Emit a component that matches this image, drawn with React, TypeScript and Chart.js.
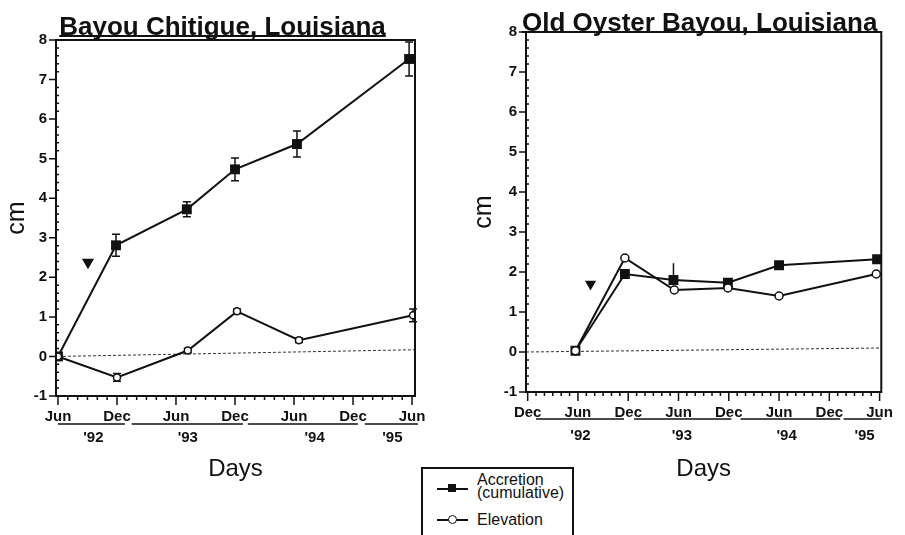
import React, { useEffect, useRef } from 'react';
import { Chart, registerables } from 'chart.js';
Chart.register(...registerables);

const FONT = "'Liberation Sans', Arial, Helvetica, sans-serif";
const INK = '#111';

// ---------- shared axis data ----------
const yTickValues = [-1, 0, 1, 2, 3, 4, 5, 6, 7, 8];
const yearLabels = ["'92", "'93", "'94", "'95"];

// x values are months after June 1992
// ---------- Bayou Chitigue ----------
const leftTickMonths = [0, 6, 12, 18, 24, 30, 36];
const leftTickLabels = ['Jun', 'Dec', 'Jun', 'Dec', 'Jun', 'Dec', 'Jun'];
const leftAccMonths = [0, 5.9, 13.1, 18.0, 24.3, 35.7];
const leftAccValues = [0, 2.81, 3.72, 4.73, 5.37, 7.52];
const leftAccErrUp = [0, 0.28, 0.19, 0.29, 0.33, 0.43];
const leftAccErrDown = [0, 0.28, 0.19, 0.29, 0.33, 0.43];
const leftElevMonths = [0, 6.0, 13.2, 18.2, 24.5, 36.1];
const leftElevValues = [0, -0.53, 0.15, 1.14, 0.41, 1.04];
const leftElevErrUp = [0, 0.1, 0.06, 0.06, 0.06, 0.16];
const leftElevErrDown = [0, 0.1, 0.06, 0.06, 0.06, 0.16];
const leftBaseMonths = [0, 36.3];
const leftBaseValues = [0, 0.17];
const leftEventMonths = [3.05];
const leftEventValues = [2.38];
const leftYearCenters = [3.6, 13.2, 26.1, 34.0];
const leftYearStarts = [0, 7.5, 19.3, 31.2];
const leftYearEnds = [6.8, 18.8, 30.5, 36.6];

// ---------- Old Oyster Bayou ----------
const rightTickMonths = [-6, 0, 6, 12, 18, 24, 30, 36];
const rightTickLabels = ['Dec', 'Jun', 'Dec', 'Jun', 'Dec', 'Jun', 'Dec', 'Jun'];
const rightAccMonths = [-0.3, 5.6, 11.4, 17.9, 24.0, 35.7];
const rightAccValues = [0.03, 1.95, 1.8, 1.73, 2.17, 2.32];
const rightAccErrUp = [0, 0.08, 0.42, 0.05, 0.06, 0.1];
const rightAccErrDown = [0, 0.12, 0, 0.05, 0.06, 0.1];
const rightElevMonths = [-0.3, 5.6, 11.5, 17.9, 24.0, 35.6];
const rightElevValues = [0.03, 2.35, 1.55, 1.6, 1.4, 1.95];
const rightElevErrUp = [0, 0, 0, 0, 0, 0];
const rightElevErrDown = [0, 0, 0, 0, 0, 0];
const rightBaseMonths = [-6.2, 36.2];
const rightBaseValues = [0, 0.1];
const rightEventMonths = [1.5];
const rightEventValues = [1.7];
const rightYearCenters = [0.3, 12.4, 24.9, 34.2];
const rightYearStarts = [-5, 6.7, 19.4, 31.7];
const rightYearEnds = [5.5, 18.3, 31.3, 36.2];

const zip = (xs: number[], ys: number[]) => xs.map((x, i) => ({ x, y: ys[i] }));

type Panel = {
  id: string;
  title: string;
  width: number;
  xMin: number;
  xMax: number;
  yAxisWidth: number;
  padTop: number;
  padRight: number;
  xAxisHeight: number;
  cmPad: number;
  titleBaseline: number;
  titleShift: number;
  cap: number;
  tickMonths: number[];
  tickLabels: string[];
  accM: number[]; accV: number[]; accU: number[]; accD: number[];
  elM: number[]; elV: number[]; elU: number[]; elD: number[];
  baseM: number[]; baseV: number[];
  evM: number[]; evV: number[];
  yearC: number[]; yearS: number[]; yearE: number[];
  lineOff: number; labelOff: number;
  sq: number; circ: number; tri: number;
};

const panels: Panel[] = [
  {
    id: 'left', title: 'Bayou Chitigue, Louisiana', width: 450,
    xMin: -0.2, xMax: 36.3, yAxisWidth: 56, padTop: 40, padRight: 35, xAxisHeight: 139,
    cmPad: 2, titleBaseline: 35, titleShift: -13, cap: 4,
    tickMonths: leftTickMonths, tickLabels: leftTickLabels,
    accM: leftAccMonths, accV: leftAccValues, accU: leftAccErrUp, accD: leftAccErrDown,
    elM: leftElevMonths, elV: leftElevValues, elU: leftElevErrUp, elD: leftElevErrDown,
    baseM: leftBaseMonths, baseV: leftBaseValues,
    evM: leftEventMonths, evV: leftEventValues,
    yearC: leftYearCenters, yearS: leftYearStarts, yearE: leftYearEnds,
    lineOff: 28, labelOff: 42, sq: 7, circ: 3.5, tri: 7,
  },
  {
    id: 'right', title: 'Old Oyster Bayou, Louisiana', width: 455,
    xMin: -6.2, xMax: 36.2, yAxisWidth: 76, padTop: 32, padRight: 13, xAxisHeight: 143,
    cmPad: 19, titleBaseline: 31, titleShift: -4, cap: 0,
    tickMonths: rightTickMonths, tickLabels: rightTickLabels,
    accM: rightAccMonths, accV: rightAccValues, accU: rightAccErrUp, accD: rightAccErrDown,
    elM: rightElevMonths, elV: rightElevValues, elU: rightElevErrUp, elD: rightElevErrDown,
    baseM: rightBaseMonths, baseV: rightBaseValues,
    evM: rightEventMonths, evV: rightEventValues,
    yearC: rightYearCenters, yearS: rightYearStarts, yearE: rightYearEnds,
    lineOff: 27, labelOff: 44, sq: 7, circ: 4, tri: 6.5,
  },
];

function decorPlugin(p: Panel) {
  return {
    id: 'decor_' + p.id,
    beforeDatasetsDraw(chart: any) {
      const ctx = chart.ctx;
      ctx.save();
      ctx.strokeStyle = INK;
      ctx.lineWidth = 1.5;
      chart.data.datasets.forEach((ds: any, di: number) => {
        if (!ds.errUp) return;
        const meta = chart.getDatasetMeta(di);
        const ys = chart.scales.y;
        meta.data.forEach((pt: any, i: number) => {
          const up = ds.errUp[i];
          const dn = ds.errDown[i];
          if (!up && !dn) return;
          const v = ds.data[i].y;
          const y1 = ys.getPixelForValue(v + up);
          const y2 = ys.getPixelForValue(v - dn);
          ctx.beginPath();
          ctx.moveTo(pt.x, y1); ctx.lineTo(pt.x, y2);
          if (p.cap > 0) {
            if (up) { ctx.moveTo(pt.x - p.cap, y1); ctx.lineTo(pt.x + p.cap, y1); }
            if (dn) { ctx.moveTo(pt.x - p.cap, y2); ctx.lineTo(pt.x + p.cap, y2); }
          }
          ctx.stroke();
        });
      });
      ctx.restore();
    },
    afterDraw(chart: any) {
      const ctx = chart.ctx;
      const { left, right, top, bottom } = chart.chartArea;
      const xs = chart.scales.x;
      const ys = chart.scales.y;
      ctx.save();
      ctx.strokeStyle = INK;
      ctx.fillStyle = INK;
      // frame
      ctx.lineWidth = 2;
      ctx.strokeRect(left, top, right - left, bottom - top);
      // x ticks (monthly minor, 6-monthly major)
      ctx.lineWidth = 1.5;
      ctx.beginPath();
      for (let m = Math.ceil(xs.min); m <= Math.floor(xs.max); m++) {
        const px = xs.getPixelForValue(m);
        const len = m % 6 === 0 ? 9 : 4;
        ctx.moveTo(px, bottom); ctx.lineTo(px, bottom + len);
      }
      // y ticks (major outside, minor inside)
      for (let k = 0; k <= (ys.max - ys.min) * 5; k++) {
        const v = ys.min + k / 5;
        const py = ys.getPixelForValue(v);
        if (k % 5 === 0) { ctx.moveTo(left, py); ctx.lineTo(left - 7, py); }
        else { ctx.moveTo(left, py); ctx.lineTo(left + 3, py); }
      }
      ctx.stroke();
      // year labels and underlines
      ctx.lineWidth = 1.5;
      ctx.beginPath();
      p.yearS.forEach((s, i) => {
        const ly = bottom + p.lineOff;
        ctx.moveTo(xs.getPixelForValue(s), ly);
        ctx.lineTo(xs.getPixelForValue(p.yearE[i]), ly);
      });
      ctx.stroke();
      ctx.font = `bold 15px ${FONT}`;
      ctx.textAlign = 'center';
      ctx.textBaseline = 'middle';
      p.yearC.forEach((c, i) => {
        ctx.fillText(yearLabels[i], xs.getPixelForValue(c), bottom + p.labelOff);
      });
      // title with underline
      ctx.font = `bold 26px ${FONT}`;
      ctx.textAlign = 'center';
      ctx.textBaseline = 'alphabetic';
      const cx = (left + right) / 2 + p.titleShift;
      const w = ctx.measureText(p.title).width;
      ctx.fillText(p.title, cx, p.titleBaseline);
      ctx.lineWidth = 2;
      ctx.beginPath();
      ctx.moveTo(cx - w / 2, p.titleBaseline + 1);
      ctx.lineTo(cx + w / 2, p.titleBaseline + 1);
      ctx.stroke();
      ctx.restore();
    },
  };
}

function makeConfig(p: Panel): any {
  return {
    type: 'line',
    data: {
      datasets: [
        {
          label: 'Elevation', data: zip(p.elM, p.elV), errUp: p.elU, errDown: p.elD,
          borderColor: INK, borderWidth: 2, tension: 0,
          pointStyle: 'circle', pointRadius: p.circ, pointBackgroundColor: '#fff',
          pointBorderColor: INK, pointBorderWidth: 1.5, order: 0,
        },
        {
          label: 'Accretion (cumulative)', data: zip(p.accM, p.accV), errUp: p.accU, errDown: p.accD,
          borderColor: INK, borderWidth: 2, tension: 0,
          pointStyle: 'rect', pointRadius: p.sq, pointBackgroundColor: INK,
          pointBorderColor: INK, pointBorderWidth: 0, order: 1,
        },
        {
          label: 'zero', data: zip(p.baseM, p.baseV),
          borderColor: '#333', borderWidth: 1, borderDash: [3, 2], pointRadius: 0, order: 2,
        },
        {
          label: 'event', data: zip(p.evM, p.evV), showLine: false,
          pointStyle: 'triangle', rotation: 180, pointRadius: p.tri,
          pointBackgroundColor: INK, pointBorderColor: INK, pointBorderWidth: 0, order: 3,
        },
      ],
    },
    options: {
      responsive: false,
      animation: false,
      events: [],
      layout: { padding: { top: p.padTop, right: p.padRight, left: 0, bottom: 0 } },
      plugins: { legend: { display: false }, tooltip: { enabled: false }, title: { display: false } },
      scales: {
        x: {
          type: 'linear', min: p.xMin, max: p.xMax,
          grid: { display: false, drawTicks: false },
          border: { display: false },
          afterBuildTicks: (s: any) => { s.ticks = p.tickMonths.map((v) => ({ value: v })); },
          afterFit: (s: any) => { s.height = p.xAxisHeight; },
          ticks: {
            autoSkip: false, maxRotation: 0, padding: 12, color: INK,
            font: { family: FONT, size: 15, weight: 'bold' },
            callback: (v: number) => {
              const i = p.tickMonths.indexOf(v);
              return i >= 0 ? p.tickLabels[i] : '';
            },
          },
          title: {
            display: true, text: 'Days', color: INK,
            font: { family: FONT, size: 24 }, padding: { top: 0, bottom: 51 },
          },
        },
        y: {
          type: 'linear', min: yTickValues[0], max: yTickValues[yTickValues.length - 1],
          grid: { display: false, drawTicks: false },
          border: { display: false },
          afterBuildTicks: (s: any) => { s.ticks = yTickValues.map((v) => ({ value: v })); },
          afterFit: (s: any) => { s.width = p.yAxisWidth; },
          ticks: {
            padding: 9, color: INK,
            font: { family: FONT, size: 15, weight: 'bold' },
          },
          title: {
            display: true, text: 'cm', color: INK,
            font: { family: FONT, size: 25 }, padding: { top: p.cmPad, bottom: 0 },
          },
        },
      },
    },
    plugins: [decorPlugin(p)],
  };
}

function PanelChart({ p, left }: { p: Panel; left: number }) {
  const ref = useRef<HTMLCanvasElement | null>(null);
  useEffect(() => {
    if (!ref.current) return;
    const chart = new Chart(ref.current, makeConfig(p));
    return () => chart.destroy();
  }, [p]);
  return (
    <canvas
      ref={ref}
      width={p.width}
      height={535}
      style={{ position: 'absolute', left, top: 0, width: p.width, height: 535 }}
    />
  );
}

function Legend() {
  const text: React.CSSProperties = {
    position: 'absolute', left: 54, fontFamily: FONT, fontSize: 16, lineHeight: '13px',
    color: INK, whiteSpace: 'nowrap',
  };
  return (
    <div
      style={{
        position: 'absolute', left: 421, top: 467, width: 149, height: 90,
        borderLeft: `2px solid ${INK}`, borderTop: `2px solid ${INK}`, borderRight: `2px solid ${INK}`,
        background: '#fff',
      }}
    >
      <div style={{ position: 'absolute', left: 14, top: 19, width: 31, height: 2, background: INK }} />
      <div style={{ position: 'absolute', left: 25, top: 15, width: 8, height: 8, background: INK }} />
      <div style={{ ...text, top: 4 }}>Accretion<br />(cumulative)</div>
      <div style={{ position: 'absolute', left: 14, top: 50, width: 31, height: 2, background: INK }} />
      <div
        style={{
          position: 'absolute', left: 25, top: 46, width: 7, height: 7, borderRadius: '50%',
          border: `1.5px solid ${INK}`, background: '#fff',
        }}
      />
      <div style={{ ...text, top: 44 }}>Elevation</div>
    </div>
  );
}

export default function App() {
  return (
    <div
      style={{
        position: 'absolute', left: 0, top: 0, width: 905, height: 535,
        overflow: 'hidden', background: '#fff',
      }}
    >
      <PanelChart p={panels[0]} left={0} />
      <PanelChart p={panels[1]} left={450} />
      <Legend />
    </div>
  );
}
